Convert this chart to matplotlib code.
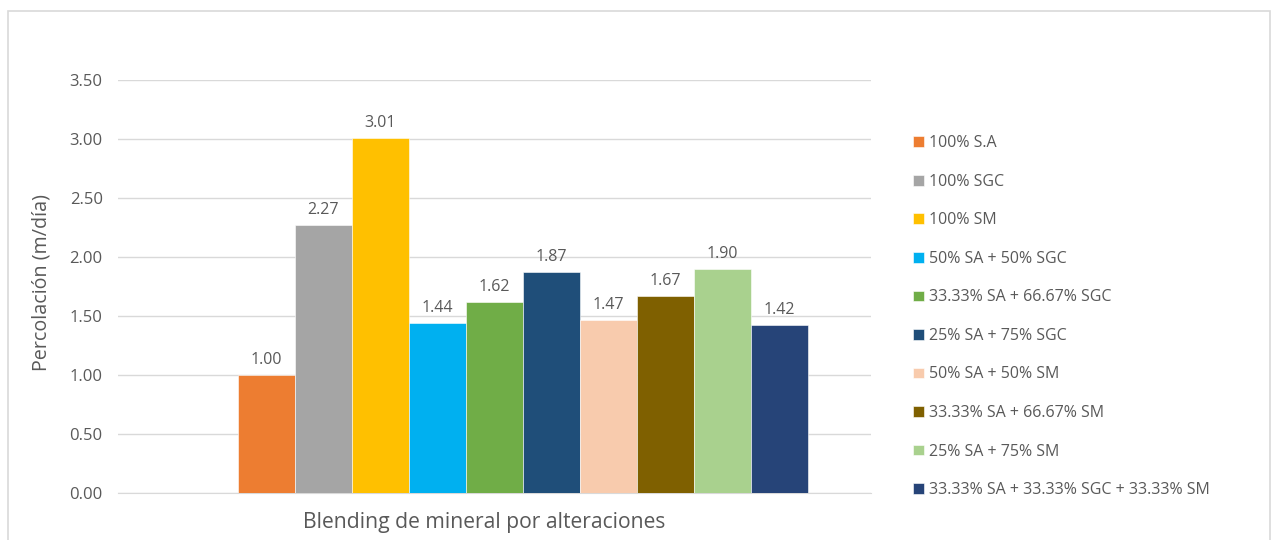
import matplotlib
matplotlib.use("Agg")
import matplotlib.pyplot as plt
from matplotlib.patches import Rectangle

# series (single category, one bar per mixture)
labels = ["100% S.A", "100% SGC", "100% SM", "50% SA + 50% SGC",
          "33.33% SA + 66.67% SGC", "25% SA + 75% SGC", "50% SA + 50% SM",
          "33.33% SA + 66.67% SM", "25% SA + 75% SM",
          "33.33% SA + 33.33% SGC + 33.33% SM"]
values = [1.00, 2.27, 3.01, 1.44, 1.62, 1.87, 1.47, 1.67, 1.90, 1.42]
colors = ["#ED7D31", "#A5A5A5", "#FFC000", "#00B0F0", "#70AD47",
          "#1F4E79", "#F8CBAD", "#7F6000", "#A9D18E", "#264478"]
yticks = [0, 0.5, 1.0, 1.5, 2.0, 2.5, 3.0, 3.5]

plt.rcParams['font.family'] = ['Open Sans', 'DejaVu Sans']
txt = "#595959"

W, H = 1275, 540
fig = plt.figure(figsize=(W / 100, H / 100), dpi=100)
ax = fig.add_axes([118 / W, 1 - 493 / H, (871 - 118) / W, (493 - 80) / H])

# chart outline
fig.patches.append(Rectangle((8 / W, -0.05), (1270 - 8) / W, 1 - 11 / H + 0.05,
                             transform=fig.transFigure, fill=False,
                             edgecolor="#D9D9D9", linewidth=1.2))

for i, (lab, v, c) in enumerate(zip(labels, values, colors)):
    ax.bar(i, v, width=1.0, color=c, label=lab, edgecolor="white", linewidth=0.4, zorder=3)
    ax.annotate(f"{v:.2f}", (i, v), xytext=(0, 5), textcoords="offset points",
                ha="center", va="bottom", fontsize=11.5, color=txt)

ax.set_xlim(-2.605, 10.605)
ax.set_ylim(0, 3.5)
ax.set_yticks(yticks)
ax.set_yticklabels([f"{t:.2f}" for t in yticks], fontsize=12, color=txt)
ax.set_xticks([])
ax.tick_params(axis="y", length=0, pad=11)
ax.grid(axis="y", color="#D9D9D9", linewidth=1, zorder=0)
for s in ["top", "right", "left"]:
    ax.spines[s].set_visible(False)
ax.spines["bottom"].set_color("#D9D9D9")

ax.set_ylabel("Percolación (m/día)", fontsize=14.2, color=txt)
ax.yaxis.set_label_coords(-0.088, 0.51)
ax.set_xlabel("Blending de mineral por alteraciones", fontsize=15.2, color=txt)
ax.xaxis.set_label_coords(0.486, -0.045)

fig.legend(loc="upper left", bbox_to_anchor=(899 / W, 1 - 121 / H),
           frameon=False, fontsize=11.5, labelcolor=txt, handlelength=0.65,
           handleheight=0.65, handletextpad=0.35, labelspacing=1.41)

fig.savefig("out.png", dpi=100, facecolor="white")
